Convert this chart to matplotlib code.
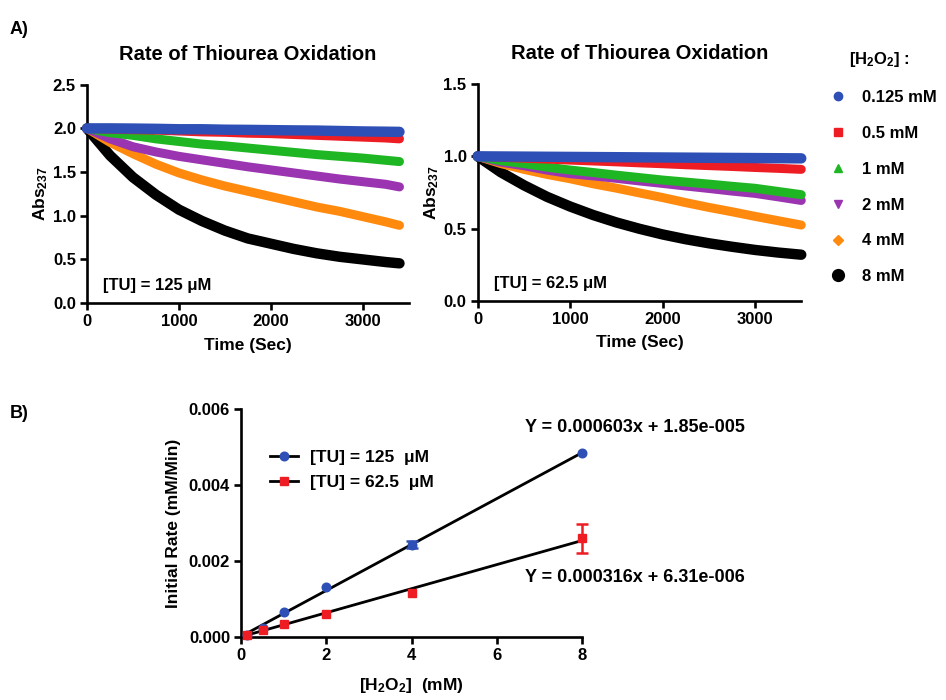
import matplotlib
matplotlib.use('Agg')
import matplotlib.pyplot as plt
from matplotlib.lines import Line2D
import numpy as np

plt.rcParams['font.family'] = ['Liberation Sans', 'DejaVu Sans']
plt.rcParams['font.weight'] = 'bold'
plt.rcParams['mathtext.fontset'] = 'custom'
plt.rcParams['mathtext.rm'] = 'Liberation Sans:bold'
plt.rcParams['mathtext.it'] = 'Liberation Sans:bold'
plt.rcParams['mathtext.bf'] = 'Liberation Sans:bold'
plt.rcParams['mathtext.default'] = 'rm'

# ---------------- data ----------------
h2o2_labels = ['0.125 mM', '0.5 mM', '1 mM', '2 mM', '4 mM', '8 mM']
series_colors = ['#2e4fb5', '#ee1d23', '#1fb624', '#9a34b0', '#ff8a0d', '#000000']
series_markers = ['o', 's', '^', 'v', 'D', 'o']

# Panel A left: [TU] = 125 uM
time_125 = [0, 250, 500, 750, 1000, 1250, 1500, 1750, 2000, 2250, 2500, 2750, 3000, 3250, 3400]
abs125_0p125 = [2.00, 2.00, 1.998, 1.995, 1.99, 1.99, 1.985, 1.983, 1.98, 1.977, 1.975, 1.97, 1.965, 1.962, 1.96]
abs125_0p5 = [2.00, 1.99, 1.985, 1.98, 1.97, 1.96, 1.955, 1.945, 1.94, 1.93, 1.92, 1.91, 1.90, 1.89, 1.88]
abs125_1 = [2.00, 1.95, 1.92, 1.88, 1.85, 1.82, 1.80, 1.775, 1.75, 1.725, 1.70, 1.68, 1.66, 1.635, 1.62]
abs125_2 = [2.00, 1.88, 1.79, 1.73, 1.68, 1.64, 1.60, 1.56, 1.525, 1.49, 1.455, 1.42, 1.39, 1.36, 1.33]
abs125_4 = [2.00, 1.84, 1.71, 1.59, 1.49, 1.41, 1.34, 1.28, 1.22, 1.16, 1.10, 1.05, 0.99, 0.93, 0.89]
abs125_8 = [2.00, 1.69, 1.44, 1.24, 1.07, 0.94, 0.83, 0.74, 0.68, 0.62, 0.57, 0.53, 0.50, 0.47, 0.455]

# Panel A right: [TU] = 62.5 uM
time_625 = [0, 250, 500, 750, 1000, 1250, 1500, 1750, 2000, 2250, 2500, 2750, 3000, 3250, 3500]
abs625_0p125 = [1.00, 0.999, 0.998, 0.997, 0.996, 0.995, 0.994, 0.993, 0.992, 0.991, 0.990, 0.989, 0.988, 0.987, 0.986]
abs625_0p5 = [1.00, 0.994, 0.987, 0.981, 0.974, 0.968, 0.962, 0.955, 0.949, 0.942, 0.936, 0.930, 0.923, 0.917, 0.910]
abs625_1 = [1.00, 0.97, 0.95, 0.925, 0.905, 0.888, 0.87, 0.853, 0.836, 0.822, 0.808, 0.793, 0.779, 0.757, 0.735]
abs625_2 = [1.00, 0.96, 0.935, 0.905, 0.88, 0.865, 0.848, 0.83, 0.813, 0.795, 0.778, 0.76, 0.744, 0.72, 0.695]
abs625_4 = [1.00, 0.95, 0.91, 0.875, 0.845, 0.81, 0.78, 0.747, 0.715, 0.68, 0.647, 0.617, 0.585, 0.555, 0.525]
abs625_8 = [1.00, 0.89, 0.80, 0.72, 0.653, 0.594, 0.543, 0.499, 0.46, 0.427, 0.399, 0.375, 0.353, 0.335, 0.32]

# Panel B
h2o2_mM = [0.125, 0.5, 1, 2, 4, 8]
rate_tu125 = [0.00005, 0.00024, 0.00066, 0.00132, 0.00243, 0.00484]
err_tu125 = [0, 0, 0, 0, 0.0001, 0]
rate_tu625 = [0.00004, 0.00018, 0.00034, 0.00061, 0.00116, 0.00259]
err_tu625 = [0, 0, 0, 0, 0, 0.00037]
fit_slopes = [0.000603, 0.000316]
fit_intercepts = [1.85e-5, 6.31e-6]
fit_texts = ['Y = 0.000603x + 1.85e-005', 'Y = 0.000316x + 6.31e-006']
tu_labels = ['[TU] = 125  \u03bcM', '[TU] = 62.5  \u03bcM']

# ---------------- figure ----------------
fig = plt.figure(figsize=(9.46, 7.0), dpi=100)
fig.patch.set_facecolor('white')

SP_LW = 1.9
TICK_FS = 12


def style_axes(ax):
    for s in ['top', 'right']:
        ax.spines[s].set_visible(False)
    for s in ['left', 'bottom']:
        ax.spines[s].set_linewidth(SP_LW)
    ax.tick_params(direction='out', length=5, width=SP_LW, labelsize=TICK_FS, pad=3)
    for lab in ax.get_xticklabels() + ax.get_yticklabels():
        lab.set_fontweight('bold')


axL = fig.add_axes([0.092, 0.567, 0.340, 0.312])
axR = fig.add_axes([0.505, 0.570, 0.342, 0.310])

left_series = [abs125_0p125, abs125_0p5, abs125_1, abs125_2, abs125_4, abs125_8]
right_series = [abs625_0p125, abs625_0p5, abs625_1, abs625_2, abs625_4, abs625_8]
zorders = [7, 6, 5, 4, 3, 2]

for ax, times, series, ymax, yt, note in [
        (axL, time_125, left_series, 2.5, [0.0, 0.5, 1.0, 1.5, 2.0, 2.5], '[TU] = 125 \u03bcM'),
        (axR, time_625, right_series, 1.5, [0.0, 0.5, 1.0, 1.5], '[TU] = 62.5 \u03bcM')]:
    for vals, c, z in zip(series, series_colors, zorders):
        lw = 7.5 if c in ('#000000', '#2e4fb5') else 6.5
        ax.plot(times, vals, color=c, lw=lw, solid_capstyle='round', solid_joinstyle='round',
                zorder=z, clip_on=False)
    ax.set_xlim(0, 3500)
    ax.set_ylim(0, ymax)
    ax.set_xticks([0, 1000, 2000, 3000])
    ax.set_yticks(yt)
    ax.set_yticklabels(['%.1f' % v for v in yt])
    style_axes(ax)
    ax.set_title('Rate of Thiourea Oxidation', fontsize=14.5, fontweight='bold', pad=18)
    ax.set_xlabel('Time (Sec)', fontsize=12.5, fontweight='bold', labelpad=6)
    ax.set_ylabel('Abs$_{237}$', fontsize=12.5, fontweight='bold', labelpad=2)
    ax.text(0.05, 0.08, note, transform=ax.transAxes, fontsize=12, fontweight='bold', va='center')

# legend for panel A
handles = []
for lab, c, m in zip(h2o2_labels, series_colors, series_markers):
    ms = 6
    if m == 'o' and c == '#000000':
        ms = 8.5
    if m == 'D':
        ms = 5
    handles.append(Line2D([], [], ls='none', marker=m, color=c, markersize=ms))
leg = axR.legend(handles, h2o2_labels, loc='upper left', bbox_to_anchor=(1.015, 1.225),
                 frameon=False, fontsize=12, labelspacing=1.25, handletextpad=0.45,
                 title='[H$_2$O$_2$] :', title_fontsize=12, alignment='center')
for t in leg.get_texts():
    t.set_fontweight('bold')
leg.get_title().set_fontweight('bold')

# Panel B
axB = fig.add_axes([0.255, 0.090, 0.360, 0.326])
fit_x = np.array([h2o2_mM[0], h2o2_mM[-1]])
for rates, errs, c, m, slope, icpt in [
        (rate_tu125, err_tu125, '#2e4fb5', 'o', fit_slopes[0], fit_intercepts[0]),
        (rate_tu625, err_tu625, '#ee1d23', 's', fit_slopes[1], fit_intercepts[1])]:
    axB.plot(fit_x, slope * fit_x + icpt, color='black', lw=2.0, zorder=2)
    axB.plot(h2o2_mM, rates, ls='none', marker=m, color=c, markersize=6.2, zorder=3,
             clip_on=False)
    idx = [i for i, e in enumerate(errs) if e > 0]
    axB.errorbar([h2o2_mM[i] for i in idx], [rates[i] for i in idx],
                 yerr=[errs[i] for i in idx], fmt='none', ecolor=c, capsize=4,
                 elinewidth=1.8, capthick=1.8, zorder=3, clip_on=False)
axB.set_xlim(0, 8)
axB.set_ylim(0, 0.006)
axB.set_xticks([0, 2, 4, 6, 8])
axB.set_yticks([0.0, 0.002, 0.004, 0.006])
axB.set_yticklabels(['0.000', '0.002', '0.004', '0.006'])
style_axes(axB)
axB.set_xlabel('[H$_2$O$_2$]  (mM)', fontsize=12.5, fontweight='bold', labelpad=9)
axB.set_ylabel('Initial Rate (mM/Min)', fontsize=12.5, fontweight='bold', labelpad=6)

hB = [Line2D([], [], color='black', lw=2.0, marker='o', markerfacecolor='#2e4fb5',
             markeredgecolor='#2e4fb5', markersize=6.2),
      Line2D([], [], color='black', lw=2.0, marker='s', markerfacecolor='#ee1d23',
             markeredgecolor='#ee1d23', markersize=6.2)]
legB = axB.legend(hB, tu_labels, loc='upper left', bbox_to_anchor=(0.04, 0.89), frameon=False,
                  fontsize=12.5, handlelength=1.6, handletextpad=0.7, labelspacing=0.6)
for t in legB.get_texts():
    t.set_fontweight('bold')

fig.text(525 / 946, 1 - 427 / 700, fit_texts[0], fontsize=13, fontweight='bold', va='center')
fig.text(525 / 946, 1 - 578 / 700, fit_texts[1], fontsize=13, fontweight='bold', va='center')

fig.text(10 / 946, 1 - 30 / 700, 'A)', fontsize=13, fontweight='bold', va='center')
fig.text(10 / 946, 1 - 413 / 700, 'B)', fontsize=13, fontweight='bold', va='center')

fig.savefig('out.png', dpi=100, facecolor='white')
